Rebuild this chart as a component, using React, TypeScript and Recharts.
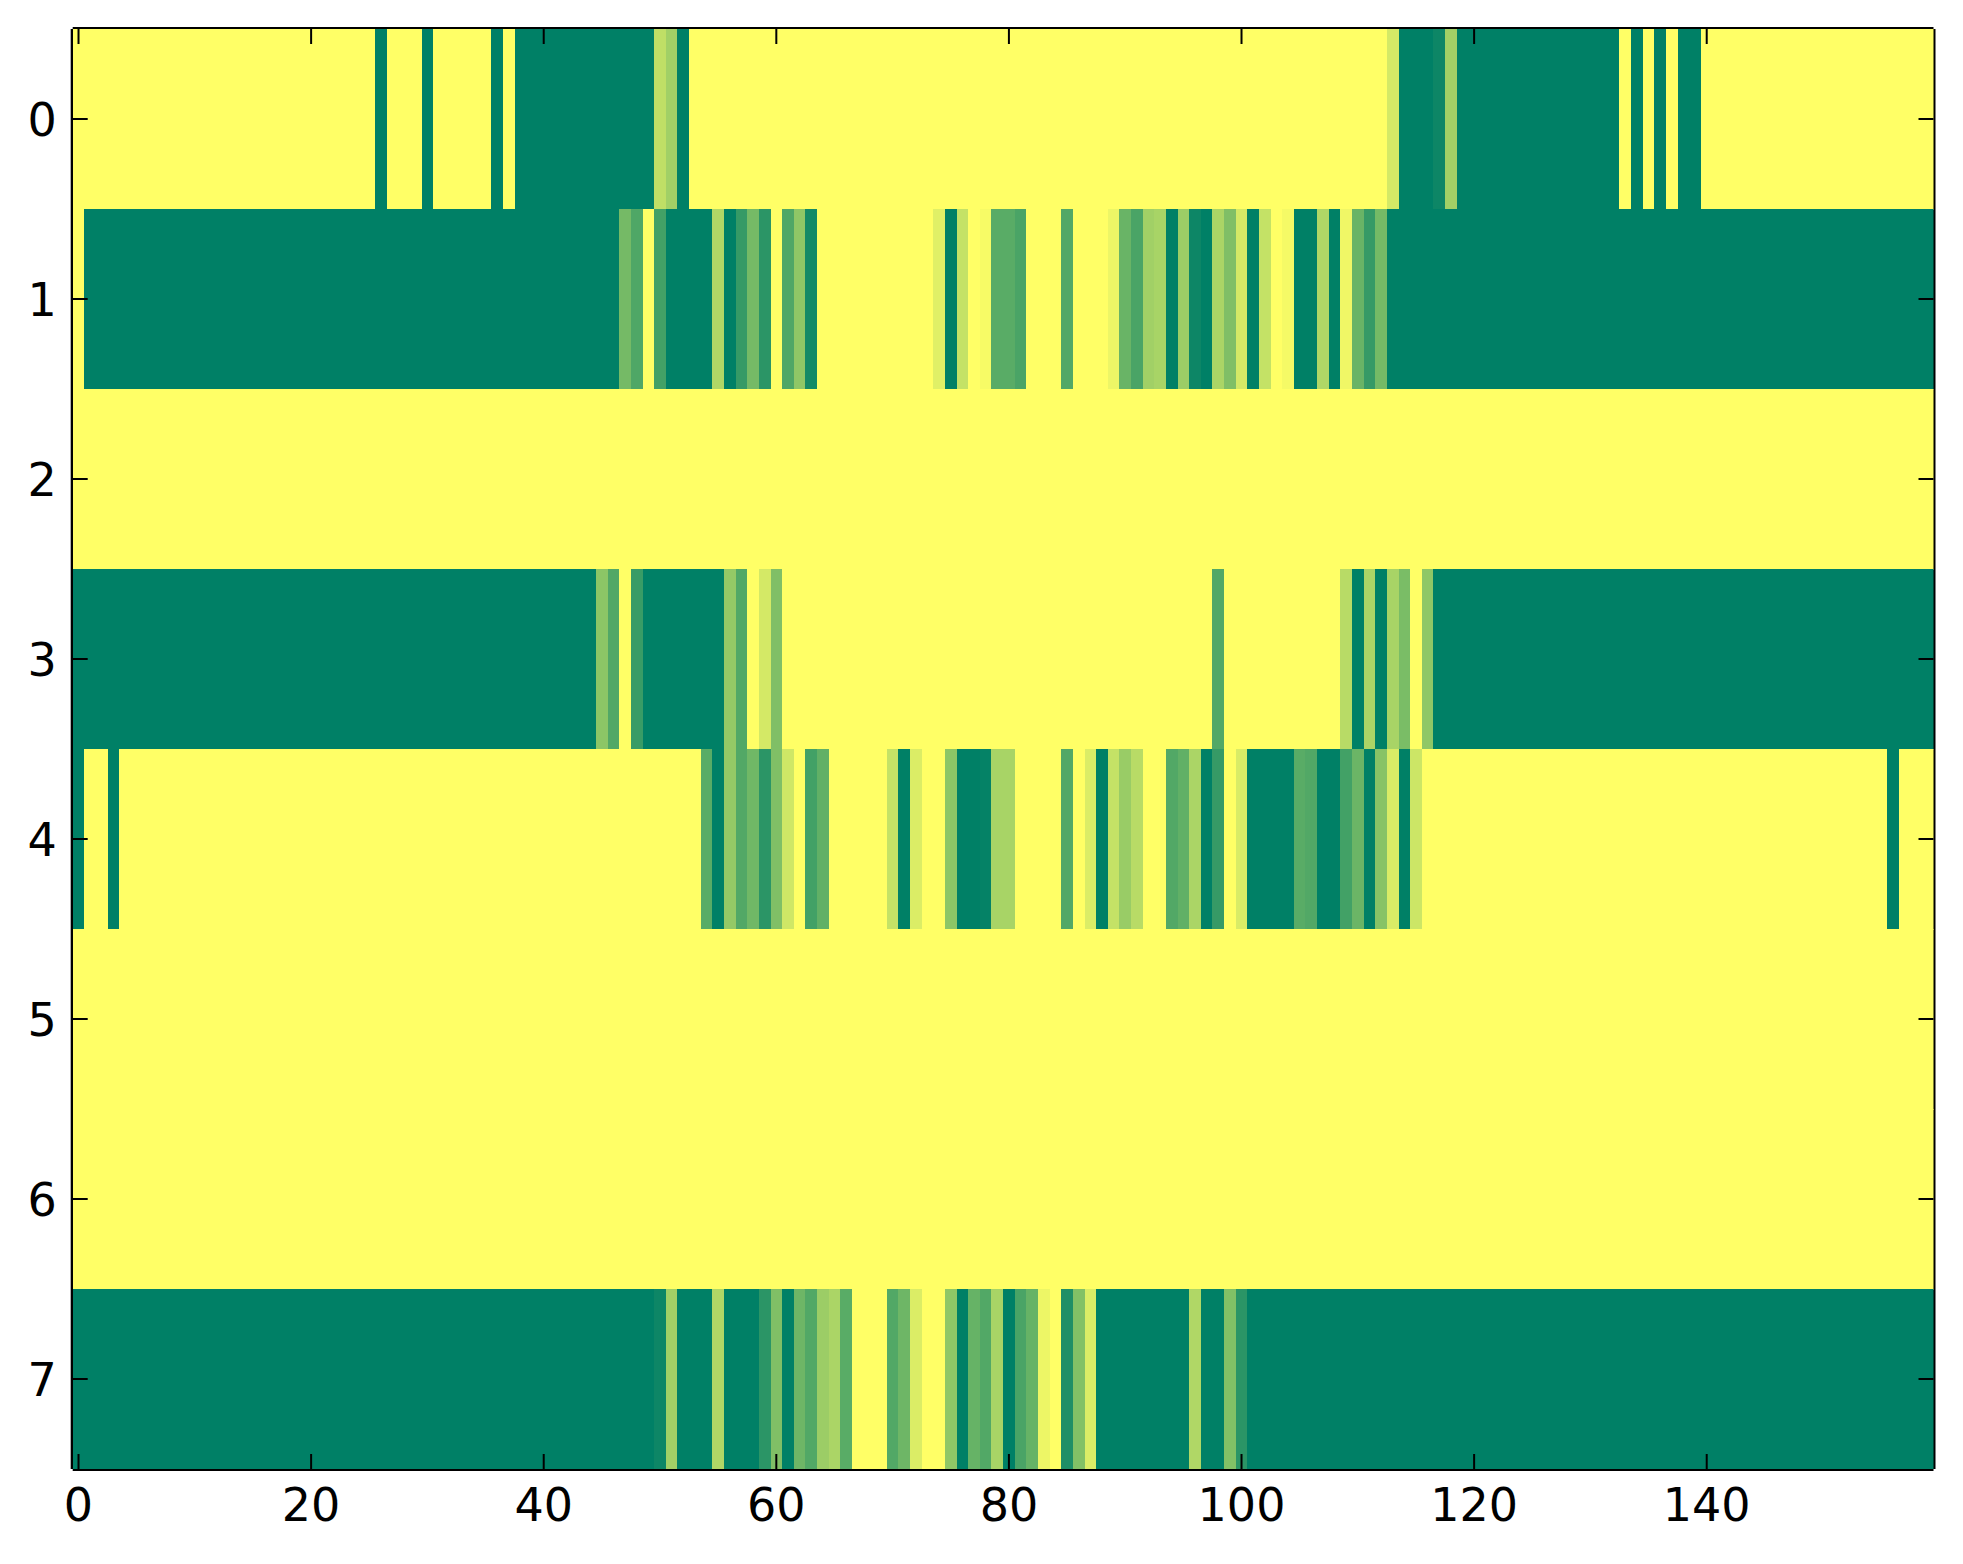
import React from "react";
import { ScatterChart, Scatter, XAxis, YAxis } from "recharts";

// ---- data (values 0..1, summer colormap) ----
const NCOLS = 160;
const ROW_LABELS = [0, 1, 2, 3, 4, 5, 6, 7];
const X_TICKS = [0, 20, 40, 60, 80, 100, 120, 140];

const row0 = [
  1, 1, 1, 1, 1, 1, 1, 1, 1, 1,
  1, 1, 1, 1, 1, 1, 1, 1, 1, 1,
  1, 1, 1, 1, 1, 1, 0, 1, 1, 1,
  0, 1, 1, 1, 1, 1, 0, 1, 0, 0,
  0, 0, 0, 0, 0, 0, 0, 0, 0, 0,
  0.75, 0.63, 0, 1, 1, 1, 1, 1, 1, 1,
  1, 1, 1, 1, 1, 1, 1, 1, 1, 1,
  1, 1, 1, 1, 1, 1, 1, 1, 1, 1,
  1, 1, 1, 1, 1, 1, 1, 1, 1, 1,
  1, 1, 1, 1, 1, 1, 1, 1, 1, 1,
  1, 1, 1, 1, 1, 1, 1, 1, 1, 1,
  1, 1, 1, 0.83, 0, 0, 0, 0.05, 0.63, 0,
  0, 0, 0, 0, 0, 0, 0, 0, 0, 0,
  0, 0, 0, 1, 0, 1, 0, 1, 0, 0,
  1, 1, 1, 1, 1, 1, 1, 1, 1, 1,
  1, 1, 1, 1, 1, 1, 1, 1, 1, 1,
];

const row1 = [
  1, 0, 0, 0, 0, 0, 0, 0, 0, 0,
  0, 0, 0, 0, 0, 0, 0, 0, 0, 0,
  0, 0, 0, 0, 0, 0, 0, 0, 0, 0,
  0, 0, 0, 0, 0, 0, 0, 0, 0, 0,
  0, 0, 0, 0, 0, 0, 0, 0.46, 0.31, 1,
  0.26, 0, 0, 0, 0, 0.69, 0, 0.21, 0.46, 0.17,
  1, 0.31, 0.56, 0.08, 1, 1, 1, 1, 1, 1,
  1, 1, 1, 1, 0.88, 0, 0.77, 1, 0.97, 0.35,
  0.35, 0.29, 1, 1, 1, 0.32, 1, 1, 1, 0.93,
  0.41, 0.29, 0.63, 0.66, 0, 0.61, 0.05, 0, 0.67, 0.5,
  0.83, 0, 0.77, 1, 0.96, 0, 0, 0.69, 0, 0.94,
  0.41, 0.21, 0.46, 0, 0, 0, 0, 0, 0, 0,
  0, 0, 0, 0, 0, 0, 0, 0, 0, 0,
  0, 0, 0, 0, 0, 0, 0, 0, 0, 0,
  0, 0, 0, 0, 0, 0, 0, 0, 0, 0,
  0, 0, 0, 0, 0, 0, 0, 0, 0, 0,
];

const row2 = [
  1, 1, 1, 1, 1, 1, 1, 1, 1, 1,
  1, 1, 1, 1, 1, 1, 1, 1, 1, 1,
  1, 1, 1, 1, 1, 1, 1, 1, 1, 1,
  1, 1, 1, 1, 1, 1, 1, 1, 1, 1,
  1, 1, 1, 1, 1, 1, 1, 1, 1, 1,
  1, 1, 1, 1, 1, 1, 1, 1, 1, 1,
  1, 1, 1, 1, 1, 1, 1, 1, 1, 1,
  1, 1, 1, 1, 1, 1, 1, 1, 1, 1,
  1, 1, 1, 1, 1, 1, 1, 1, 1, 1,
  1, 1, 1, 1, 1, 1, 1, 1, 1, 1,
  1, 1, 1, 1, 1, 1, 1, 1, 1, 1,
  1, 1, 1, 1, 1, 1, 1, 1, 1, 1,
  1, 1, 1, 1, 1, 1, 1, 1, 1, 1,
  1, 1, 1, 1, 1, 1, 1, 1, 1, 1,
  1, 1, 1, 1, 1, 1, 1, 1, 1, 1,
  1, 1, 1, 1, 1, 1, 1, 1, 1, 1,
];

const row3 = [
  0, 0, 0, 0, 0, 0, 0, 0, 0, 0,
  0, 0, 0, 0, 0, 0, 0, 0, 0, 0,
  0, 0, 0, 0, 0, 0, 0, 0, 0, 0,
  0, 0, 0, 0, 0, 0, 0, 0, 0, 0,
  0, 0, 0, 0, 0, 0.55, 0.32, 1, 0.22, 0,
  0, 0, 0, 0, 0, 0, 0.58, 0.32, 1, 0.83,
  0.5, 1, 1, 1, 1, 1, 1, 1, 1, 1,
  1, 1, 1, 1, 1, 1, 1, 1, 1, 1,
  1, 1, 1, 1, 1, 1, 1, 1, 1, 1,
  1, 1, 1, 1, 1, 1, 1, 1, 0.32, 1,
  1, 1, 1, 1, 1, 1, 1, 1, 1, 0.72,
  0, 0.67, 0, 0.66, 0.48, 1, 0.56, 0, 0, 0,
  0, 0, 0, 0, 0, 0, 0, 0, 0, 0,
  0, 0, 0, 0, 0, 0, 0, 0, 0, 0,
  0, 0, 0, 0, 0, 0, 0, 0, 0, 0,
  0, 0, 0, 0, 0, 0, 0, 0, 0, 0,
];

const row4 = [
  0, 1, 1, 0, 1, 1, 1, 1, 1, 1,
  1, 1, 1, 1, 1, 1, 1, 1, 1, 1,
  1, 1, 1, 1, 1, 1, 1, 1, 1, 1,
  1, 1, 1, 1, 1, 1, 1, 1, 1, 1,
  1, 1, 1, 1, 1, 1, 1, 1, 1, 1,
  1, 1, 1, 1, 0.35, 0, 0.58, 0.32, 0.44, 0.17,
  0.5, 0.81, 1, 0.26, 0.38, 1, 1, 1, 1, 1,
  0.77, 0, 0.86, 1, 1, 0.55, 0, 0, 0.02, 0.66,
  0.66, 1, 1, 1, 1, 0.32, 1, 0.86, 0, 0.77,
  0.6, 0.72, 1, 1, 0.32, 0.38, 0.67, 0, 0.21, 1,
  0.85, 0, 0, 0, 0, 0.35, 0.32, 0, 0, 0.26,
  0.42, 0, 0.53, 0.85, 0, 0.8, 1, 1, 1, 1,
  1, 1, 1, 1, 1, 1, 1, 1, 1, 1,
  1, 1, 1, 1, 1, 1, 1, 1, 1, 1,
  1, 1, 1, 1, 1, 1, 1, 1, 1, 1,
  1, 1, 1, 1, 1, 1, 0, 1, 1, 1,
];

const row5 = [
  1, 1, 1, 1, 1, 1, 1, 1, 1, 1,
  1, 1, 1, 1, 1, 1, 1, 1, 1, 1,
  1, 1, 1, 1, 1, 1, 1, 1, 1, 1,
  1, 1, 1, 1, 1, 1, 1, 1, 1, 1,
  1, 1, 1, 1, 1, 1, 1, 1, 1, 1,
  1, 1, 1, 1, 1, 1, 1, 1, 1, 1,
  1, 1, 1, 1, 1, 1, 1, 1, 1, 1,
  1, 1, 1, 1, 1, 1, 1, 1, 1, 1,
  1, 1, 1, 1, 1, 1, 1, 1, 1, 1,
  1, 1, 1, 1, 1, 1, 1, 1, 1, 1,
  1, 1, 1, 1, 1, 1, 1, 1, 1, 1,
  1, 1, 1, 1, 1, 1, 1, 1, 1, 1,
  1, 1, 1, 1, 1, 1, 1, 1, 1, 1,
  1, 1, 1, 1, 1, 1, 1, 1, 1, 1,
  1, 1, 1, 1, 1, 1, 1, 1, 1, 1,
  1, 1, 1, 1, 1, 1, 1, 1, 1, 1,
];

const row6 = [
  1, 1, 1, 1, 1, 1, 1, 1, 1, 1,
  1, 1, 1, 1, 1, 1, 1, 1, 1, 1,
  1, 1, 1, 1, 1, 1, 1, 1, 1, 1,
  1, 1, 1, 1, 1, 1, 1, 1, 1, 1,
  1, 1, 1, 1, 1, 1, 1, 1, 1, 1,
  1, 1, 1, 1, 1, 1, 1, 1, 1, 1,
  1, 1, 1, 1, 1, 1, 1, 1, 1, 1,
  1, 1, 1, 1, 1, 1, 1, 1, 1, 1,
  1, 1, 1, 1, 1, 1, 1, 1, 1, 1,
  1, 1, 1, 1, 1, 1, 1, 1, 1, 1,
  1, 1, 1, 1, 1, 1, 1, 1, 1, 1,
  1, 1, 1, 1, 1, 1, 1, 1, 1, 1,
  1, 1, 1, 1, 1, 1, 1, 1, 1, 1,
  1, 1, 1, 1, 1, 1, 1, 1, 1, 1,
  1, 1, 1, 1, 1, 1, 1, 1, 1, 1,
  1, 1, 1, 1, 1, 1, 1, 1, 1, 1,
];

const row7 = [
  0, 0, 0, 0, 0, 0, 0, 0, 0, 0,
  0, 0, 0, 0, 0, 0, 0, 0, 0, 0,
  0, 0, 0, 0, 0, 0, 0, 0, 0, 0,
  0, 0, 0, 0, 0, 0, 0, 0, 0, 0,
  0, 0, 0, 0, 0, 0, 0, 0, 0, 0,
  0.05, 0.63, 0, 0, 0, 0.69, 0, 0, 0, 0.17,
  0.5, 0, 0.43, 0.32, 0.61, 0.67, 0.35, 1, 1, 1,
  0.32, 0.43, 0.86, 1, 1, 0.56, 0, 0.4, 0.32, 0.66,
  0, 0.29, 0.4, 0.93, 1, 0.12, 0.51, 0.86, 0, 0,
  0, 0, 0, 0, 0, 0, 0.69, 0, 0, 0.51,
  0.17, 0, 0, 0, 0, 0, 0, 0, 0, 0,
  0, 0, 0, 0, 0, 0, 0, 0, 0, 0,
  0, 0, 0, 0, 0, 0, 0, 0, 0, 0,
  0, 0, 0, 0, 0, 0, 0, 0, 0, 0,
  0, 0, 0, 0, 0, 0, 0, 0, 0, 0,
  0, 0, 0, 0, 0, 0, 0, 0, 0, 0,
];

const ROWS = [row0, row1, row2, row3, row4, row5, row6, row7];

// table for the library
const cells = ROWS.flatMap((row, r) => row.map((v, c) => ({ x: c, y: r, v })));

// ---- layout ----
const CHART_W = 1947;
const CHART_H = 1548;
const MARGIN = { top: 11, right: 11.5, bottom: 27, left: 4.7 };
const Y_AXIS_W = 60;
const Y_AXIS_R_W = 10;
const X_AXIS_H = 60;
const X_AXIS_T_H = 10;
const PLOT_W = CHART_W - MARGIN.left - MARGIN.right - Y_AXIS_W - Y_AXIS_R_W;
const PLOT_H = CHART_H - MARGIN.top - MARGIN.bottom - X_AXIS_H - X_AXIS_T_H;
const CELL_W = PLOT_W / NCOLS;
const CELL_H = PLOT_H / ROW_LABELS.length;

const FONT = "'DejaVu Sans', sans-serif";
const FONT_SIZE = 46;
const TICK_LEN = 15;

// matplotlib "summer" colormap
const summer = (v: number) => {
  const r = Math.round(255 * v);
  const g = Math.round(255 * (0.5 + 0.5 * v));
  return `rgb(${r},${g},102)`;
};

const CellShape = (props: any) => {
  const { cx, cy, payload } = props;
  if (cx == null || cy == null) return <g />;
  return (
    <rect
      x={cx - CELL_W / 2}
      y={cy - CELL_H / 2}
      width={CELL_W + 0.6}
      height={CELL_H + 0.6}
      fill={summer(payload.v)}
      shapeRendering="crispEdges"
    />
  );
};

const Empty = () => <g />;

const BottomTick = (props: any) => {
  const { x, y, payload } = props;
  return (
    <g>
      <line x1={x} x2={x} y1={y} y2={y - TICK_LEN} stroke="#000" strokeWidth={2} />
      <text x={x} y={y + 52} textAnchor="middle" fontFamily={FONT} fontSize={FONT_SIZE} fill="#000">
        {payload.value}
      </text>
    </g>
  );
};

const TopTick = (props: any) => {
  const { x, y } = props;
  return <line x1={x} x2={x} y1={y} y2={y + TICK_LEN} stroke="#000" strokeWidth={2} />;
};

const LeftTick = (props: any) => {
  const { x, y, payload } = props;
  return (
    <g>
      <line x1={x} x2={x + TICK_LEN} y1={y} y2={y} stroke="#000" strokeWidth={2} />
      <text x={x - 16} y={y + 16.5} textAnchor="end" fontFamily={FONT} fontSize={FONT_SIZE} fill="#000">
        {payload.value}
      </text>
    </g>
  );
};

const RightTick = (props: any) => {
  const { x, y } = props;
  return <line x1={x} x2={x - TICK_LEN} y1={y} y2={y} stroke="#000" strokeWidth={2} />;
};

const AXIS_LINE = { stroke: "#000", strokeWidth: 4 };

export default function App() {
  return (
    <div style={{ width: CHART_W, height: CHART_H, background: "#fff" }}>
      <ScatterChart width={CHART_W} height={CHART_H} margin={MARGIN}>
        <Scatter
          data={cells}
          xAxisId="b"
          yAxisId="l"
          dataKey="y"
          shape={CellShape}
          isAnimationActive={false}
        />
        <Scatter
          data={cells}
          xAxisId="t"
          yAxisId="r"
          dataKey="y"
          shape={Empty}
          isAnimationActive={false}
        />
        <XAxis
          xAxisId="b"
          type="number"
          dataKey="x"
          orientation="bottom"
          domain={[-0.5, NCOLS - 0.5]}
          ticks={X_TICKS}
          interval={0}
          allowDataOverflow
          height={X_AXIS_H}
          tickSize={0}
          tickMargin={0}
          tickLine={false}
          axisLine={AXIS_LINE}
          tick={BottomTick}
        />
        <XAxis
          xAxisId="t"
          type="number"
          dataKey="x"
          orientation="top"
          domain={[-0.5, NCOLS - 0.5]}
          ticks={X_TICKS}
          interval={0}
          allowDataOverflow
          height={X_AXIS_T_H}
          tickSize={0}
          tickMargin={0}
          tickLine={false}
          axisLine={AXIS_LINE}
          tick={TopTick}
        />
        <YAxis
          yAxisId="l"
          type="number"
          dataKey="y"
          orientation="left"
          reversed
          domain={[-0.5, ROW_LABELS.length - 0.5]}
          ticks={ROW_LABELS}
          interval={0}
          allowDataOverflow
          width={Y_AXIS_W}
          tickSize={0}
          tickMargin={0}
          tickLine={false}
          axisLine={AXIS_LINE}
          tick={LeftTick}
        />
        <YAxis
          yAxisId="r"
          type="number"
          dataKey="y"
          orientation="right"
          reversed
          domain={[-0.5, ROW_LABELS.length - 0.5]}
          ticks={ROW_LABELS}
          interval={0}
          allowDataOverflow
          width={Y_AXIS_R_W}
          tickSize={0}
          tickMargin={0}
          tickLine={false}
          axisLine={AXIS_LINE}
          tick={RightTick}
        />
      </ScatterChart>
    </div>
  );
}
